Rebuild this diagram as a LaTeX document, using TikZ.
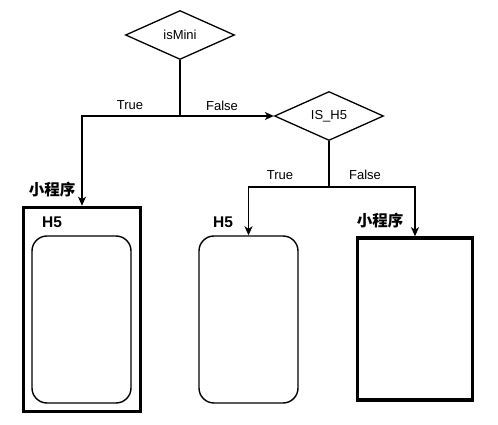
\documentclass[tikz,border=0pt]{standalone}
\usepackage{fontspec}
\setmainfont{Liberation Sans}
\newfontfamily\cjk{Noto Sans CJK SC}
\usetikzlibrary{shapes.geometric,arrows.meta}
\begin{document}
\begin{tikzpicture}[x=1pt,y=1pt,
  decision/.style={draw,diamond,line width=1.3pt,inner sep=0pt,minimum width=109pt,minimum height=49pt,font=\fontsize{13}{15}\selectfont},
  phone/.style={draw,rectangle,line width=1.4pt,rounded corners=15pt,minimum width=99pt,minimum height=167pt},
  thickbox/.style={draw,rectangle,line width=3.6pt,inner sep=0pt},
  branch/.style={font=\fontsize{13}{15}\selectfont},
  tag/.style={font=\fontsize{15.5}{17}\selectfont\bfseries},
  arr/.style={line width=1.3pt,-{Stealth[length=9pt,width=8pt,inset=2.5pt]}}]
\useasboundingbox (0,0) rectangle (498,-425);
% decisions
\node[decision] (mini) at (180,-35) {isMini};
\node[decision] (h5q) at (329,-116) {IS\_H5};
% boxes
\node[thickbox,minimum width=117pt,minimum height=204pt] (app) at (82,-309.5) {};
\node[phone] (inner) at (81.5,-319.5) {};
\node[phone] (h5box) at (248.5,-319.5) {};
\node[thickbox,minimum width=115pt,minimum height=162pt] (minibox) at (415,-319) {};
% joints
\coordinate (j1) at (180,-116);
\coordinate (j2) at (329,-187);
% connectors
\draw[line width=1.3pt] (mini.south) -- (j1);
\draw[arr] (j1) -| (app.north);
\draw[arr] (j1) -- (h5q.west);
\draw[line width=1.3pt] (h5q.south) -- (j2);
\draw[arr] (j2) -| (h5box.north);
\draw[arr] (j2) -| (minibox.north);
% labels
\foreach \n/\x/\y/\t in {t1/130/-105/True,f1/222/-106/False,t2/280/-175/True,f2/365/-175/False}
 \node[branch] (\n) at (\x,\y) {\t};
\foreach \n/\x/\y in {h5a/52/-222,h5b/223/-222}
 \node[tag] (\n) at (\x,\y) {H5};
\foreach \n/\x/\y in {cxa/52/-190,cxb/380/-221}
 \node[tag] (\n) at (\x,\y) {\cjk\bfseries 小程序};
\end{tikzpicture}
\end{document}
